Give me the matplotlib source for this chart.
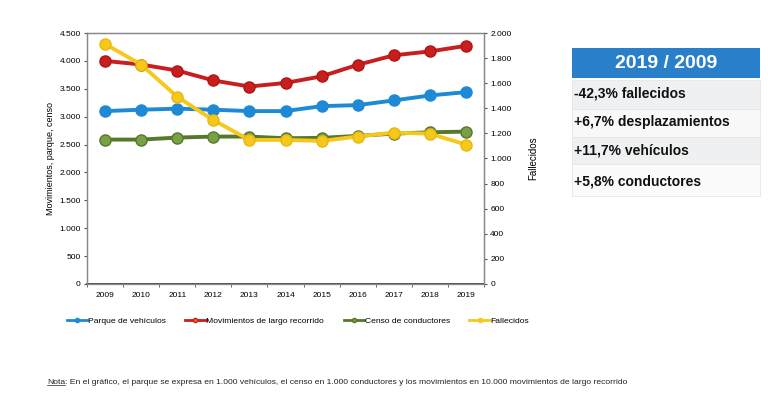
import matplotlib
matplotlib.use("Agg")
import matplotlib.pyplot as plt
from matplotlib.ticker import FuncFormatter, FixedLocator
from matplotlib.lines import Line2D
from matplotlib.patches import Rectangle

plt.rcParams['font.family'] = ['Liberation Sans', 'DejaVu Sans']

years = ['2009', '2010', '2011', '2012', '2013', '2014', '2015', '2016', '2017', '2018', '2019']
parque = [3100, 3125, 3143, 3125, 3100, 3100, 3189, 3207, 3291, 3380, 3440]
movimientos = [4000, 3935, 3827, 3650, 3540, 3605, 3723, 3930, 4100, 4170, 4270]
censo = [2589, 2589, 2625, 2643, 2643, 2613, 2620, 2655, 2696, 2720, 2732]
fallecidos = [1913, 1748, 1492, 1306, 1148, 1148, 1140, 1175, 1206, 1198, 1111]

series_names = ['Parque de vehículos', 'Movimientos de largo recorrido', 'Censo de conductores', 'Fallecidos']
table_title = '2019 / 2009'
table_rows = ['-42,3% fallecidos', '+6,7% desplazamientos', '+11,7% vehículos', '+5,8% conductores']
note_label = 'Nota'
note_text = ': En el gráfico, el parque se expresa en 1.000 vehículos, el censo en 1.000 conductores y los movimientos en 10.000 movimientos de largo recorrido'

c_blue = '#1e8ad6'
c_red = '#c81e1e'
c_green = '#55782a'
c_green_m = '#7aa046'
c_yellow = '#f6c81c'

fig = plt.figure(figsize=(7.68, 3.93), dpi=100)
ax = fig.add_axes([0.1133, 0.2774, 0.5169, 0.6386])
ax2 = ax.twinx()

x = list(range(len(years)))
lw = 2.8
ms = 8
ax.plot(x, parque, color=c_blue, lw=lw, marker='o', ms=ms, mfc=c_blue, mec=c_blue, zorder=3)
ax.plot(x, movimientos, color=c_red, lw=lw, marker='o', ms=ms, mfc=c_red, mec='#b01515', zorder=3)
ax.plot(x, censo, color=c_green, lw=lw, marker='o', ms=ms, mfc=c_green_m, mec=c_green, zorder=3)
ax2.plot(x, fallecidos, color=c_yellow, lw=lw, marker='o', ms=ms, mfc=c_yellow, mec='#e8b810', zorder=3)

ax.set_xlim(-0.5, len(years) - 0.5)
ax.set_ylim(0, 4500)
ax2.set_ylim(0, 2000)
ax.set_yticks(range(0, 4501, 500))
ax2.set_yticks(range(0, 2001, 200))
fmt = FuncFormatter(lambda v, p: f'{int(v):,}'.replace(',', '.'))
ax.yaxis.set_major_formatter(fmt)
ax2.yaxis.set_major_formatter(fmt)

ax.set_xticks(x)
ax.set_xticklabels(years)
ax.xaxis.set_minor_locator(FixedLocator([i + 0.5 for i in range(-1, len(years))]))
ax.tick_params(axis='x', which='major', length=0, labelsize=6, pad=6)
ax.tick_params(axis='x', which='minor', length=2.5, direction='out', color='#555555')
ax.tick_params(axis='y', length=2.5, labelsize=6, pad=2, color='#555555')
ax2.tick_params(axis='y', length=2.5, labelsize=6, pad=2, color='#555555')

for a in (ax, ax2):
    for s in a.spines.values():
        s.set_color('#888888')
        s.set_linewidth(0.9)
ax.spines['bottom'].set_color('#333333')
ax.spines['bottom'].set_linewidth(1.2)

ax.set_ylabel('Movimientos, parque, censo', fontsize=6.5, labelpad=3)
ax2.set_ylabel('Fallecidos', fontsize=7, rotation=90, labelpad=12)

handles = [
    Line2D([], [], color=c_blue, lw=2, marker='o', ms=3, mfc=c_blue, mec=c_blue),
    Line2D([], [], color=c_red, lw=2, marker='o', ms=3, mfc='#f07020', mec=c_red),
    Line2D([], [], color=c_green, lw=2, marker='o', ms=3, mfc=c_green_m, mec=c_green),
    Line2D([], [], color=c_yellow, lw=2, marker='o', ms=3, mfc=c_yellow, mec=c_yellow),
]
fig.legend(handles, series_names, loc='center', bbox_to_anchor=(0.388, 0.183), ncol=4,
           fontsize=6.1, frameon=False, handlelength=2.4, handletextpad=0.1,
           columnspacing=2.3)

# table on the right
tx0, tx1 = 572 / 768, 760 / 768
def fy(py):
    return 1 - py / 393
fig.patches.append(Rectangle((tx0, fy(78)), tx1 - tx0, fy(48) - fy(78), transform=fig.transFigure,
                             facecolor='#2a7fca', edgecolor='none'))
fig.text((tx0 + tx1) / 2, fy(63), table_title, ha='center', va='center', color='white',
         fontsize=14, fontweight='bold')
row_bounds = [(80, 109), (109, 137), (137, 164), (164, 196)]
row_text_y = [94, 122, 151, 181]
row_colors = ['#eff0f1', '#f8f8f8', '#eff0f1', '#fbfbfb']
for (y0, y1), ty, col, txt in zip(row_bounds, row_text_y, row_colors, table_rows):
    fig.patches.append(Rectangle((tx0, fy(y1)), tx1 - tx0, fy(y0) - fy(y1), transform=fig.transFigure,
                                 facecolor=col, edgecolor='#e4e6e8', linewidth=0.6))
    fig.text(tx0 + 0.002, fy(ty), txt, ha='left', va='center',
             fontsize=10, fontweight='bold', color='#111111')

# note
t1 = fig.text(47 / 768, fy(383), note_label, ha='left', va='center', fontsize=6.1, color='#222222')
fig.canvas.draw()
bb = t1.get_window_extent()
inv = fig.transFigure.inverted()
(x0, y0), (x1, y1) = inv.transform([(bb.x0, bb.y0), (bb.x1, bb.y1)])
fig.add_artist(Line2D([x0, x1], [y0 + 0.004, y0 + 0.004], transform=fig.transFigure, color='#222222', lw=0.5))
fig.text(x1, fy(383), note_text, ha='left', va='center', fontsize=6.1, color='#222222')

fig.savefig('out.png', dpi=100)
